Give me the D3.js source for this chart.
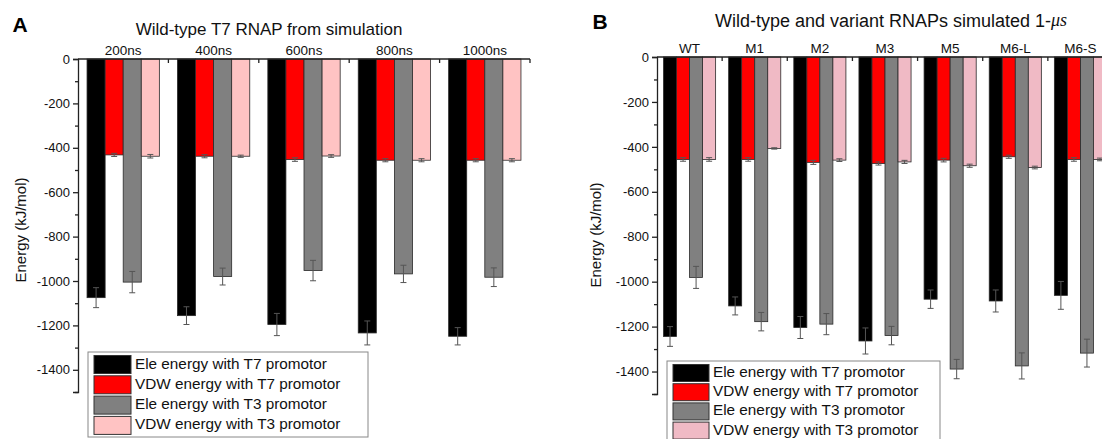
<!DOCTYPE html>
<html>
<head>
<meta charset="utf-8">
<script src="https://cdn.jsdelivr.net/npm/d3@7"></script>
<style>
  body { margin: 0; background: #fff; }
  svg { display: block; }
</style>
</head>
<body>
<div id="chart"></div>
<script>
// series names (legend)
const seriesNames = [
    "Ele energy with T7 promotor",
    "VDW energy with T7 promotor",
    "Ele energy with T3 promotor",
    "VDW energy with T3 promotor"
];

// panel A: wild-type over simulation time
const groupsA = ["200ns", "400ns", "600ns", "800ns", "1000ns"];
const eleT7A = [-1075, -1156, -1196, -1234, -1249];
const eleT7ErrA = [45, 40, 50, 54, 39];
const vdwT7A = [-432, -438, -453, -456, -456];
const vdwT7ErrA = [7, 7, 8, 7, 7];
const eleT3A = [-1005, -980, -953, -968, -983];
const eleT3ErrA = [48, 38, 46, 39, 42];
const vdwT3A = [-438, -438, -437, -456, -456];
const vdwT3ErrA = [8, 5, 6, 7, 7];

// panel B: wild-type and variants
const groupsB = ["WT", "M1", "M2", "M3", "M5", "M6-L", "M6-S"];
const eleT7B = [-1244, -1108, -1204, -1264, -1078, -1086, -1061];
const eleT7ErrB = [44, 40, 49, 58, 41, 49, 62];
const vdwT7B = [-456, -456, -469, -474, -459, -444, -456];
const vdwT7ErrB = [8, 8, 9, 7, 8, 7, 8];
const eleT3B = [-981, -1178, -1189, -1240, -1389, -1375, -1318];
const eleT3ErrB = [49, 41, 47, 41, 43, 58, 62];
const vdwT3B = [-456, -407, -459, -467, -484, -492, -456];
const vdwT3ErrB = [8, 3, 6, 7, 7, 6, 6];

const yTicks = [0, -200, -400, -600, -800, -1000, -1200, -1400];
const yMinorTicks = [-100, -300, -500, -700, -900, -1100, -1300, -1500];

const W = 1102, H = 439;
const font = "Arial, 'Liberation Sans', sans-serif";

const svg = d3.select("#chart").append("svg")
    .attr("width", W)
    .attr("height", H)
    .attr("viewBox", `0 0 ${W} ${H}`);

function drawPanel(p) {
    const g = svg.append("g");
    const series = [
        { vals: p.eleT7, errs: p.eleT7Err, color: "#000000" },
        { vals: p.vdwT7, errs: p.vdwT7Err, color: "#ff0000" },
        { vals: p.eleT3, errs: p.eleT3Err, color: "#808080" },
        { vals: p.vdwT3, errs: p.vdwT3Err, color: p.pink }
    ];

    const x0 = d3.scaleBand()
        .domain(p.groups)
        .range([p.left, p.right])
        .paddingInner(0.2)
        .paddingOuter(0.1);
    const x1 = d3.scaleBand()
        .domain(d3.range(4))
        .range([0, x0.bandwidth()]);
    const y = d3.scaleLinear()
        .domain([-1500, 0])
        .range([p.bottom, p.top]);

    // bars
    series.forEach((s, si) => {
        g.selectAll(null)
            .data(p.groups)
            .enter().append("rect")
            .attr("x", d => x0(d) + x1(si))
            .attr("y", y(0))
            .attr("width", x1.bandwidth())
            .attr("height", (d, i) => y(s.vals[i]) - y(0))
            .attr("fill", s.color)
            .attr("stroke", "#2a2a2a")
            .attr("stroke-width", 0.8);
    });

    // error bars
    series.forEach((s, si) => {
        p.groups.forEach((grp, i) => {
            const cx = x0(grp) + x1(si) + x1.bandwidth() / 2;
            const y1 = y(s.vals[i] + s.errs[i]);
            const y2 = y(s.vals[i] - s.errs[i]);
            g.append("line")
                .attr("x1", cx).attr("x2", cx)
                .attr("y1", y1).attr("y2", y2)
                .attr("stroke", "#555").attr("stroke-width", 1);
            [y1, y2].forEach(yy => {
                g.append("line")
                    .attr("x1", cx - 3).attr("x2", cx + 3)
                    .attr("y1", yy).attr("y2", yy)
                    .attr("stroke", "#555").attr("stroke-width", 1);
            });
        });
    });

    // y axis
    const yAxis = g.append("g")
        .attr("transform", `translate(${p.left},0)`)
        .call(d3.axisLeft(y).tickValues(yTicks).tickSize(5).tickPadding(3).tickFormat(d3.format("d")));
    yAxis.select(".domain").attr("stroke", "#222").attr("stroke-width", 1.3);
    yAxis.selectAll(".tick line").attr("stroke", "#222").attr("stroke-width", 1.3);
    yAxis.selectAll(".tick text")
        .style("font-family", font)
        .style("font-size", "13px")
        .attr("fill", "#111")
        .text(d => d === 0 ? "0" : "-" + Math.abs(d));
    const yMinor = g.append("g")
        .attr("transform", `translate(${p.left},0)`)
        .call(d3.axisLeft(y).tickValues(yMinorTicks).tickSize(3).tickFormat(""));
    yMinor.select(".domain").remove();
    yMinor.selectAll(".tick line").attr("stroke", "#222").attr("stroke-width", 1.3);

    // top axis
    g.append("line")
        .attr("x1", p.left).attr("x2", p.right)
        .attr("y1", y(0)).attr("y2", y(0))
        .attr("stroke", "#222").attr("stroke-width", 1.3);
    const step = x0.step();
    d3.range(1, p.groups.length + 1).forEach(i => {
        const tx = p.left + i * step;
        g.append("line")
            .attr("x1", tx).attr("x2", tx)
            .attr("y1", y(0)).attr("y2", y(0) + 4)
            .attr("stroke", "#222").attr("stroke-width", 1.3);
    });
    g.selectAll(null)
        .data(p.groups)
        .enter().append("text")
        .attr("x", d => x0(d) + x0.bandwidth() / 2)
        .attr("y", y(0) - 4)
        .attr("text-anchor", "middle")
        .style("font-family", font)
        .style("font-size", "13.5px")
        .attr("fill", "#111")
        .text(d => d);

    // y label
    g.append("text")
        .attr("transform", `translate(${p.ylabelX},${p.ylabelY}) rotate(-90)`)
        .attr("text-anchor", "middle")
        .attr("dominant-baseline", "middle")
        .style("font-family", font)
        .style("font-size", "15px")
        .attr("fill", "#111")
        .text("Energy (kJ/mol)");

    // panel letter
    g.append("text")
        .attr("x", p.letterX)
        .attr("y", p.letterY)
        .attr("text-anchor", "middle")
        .attr("dominant-baseline", "middle")
        .style("font-family", font)
        .style("font-size", "21px")
        .style("font-weight", "bold")
        .text(p.letter);

    // title
    const title = g.append("text")
        .attr("x", p.titleX)
        .attr("y", p.titleY)
        .attr("text-anchor", "middle")
        .attr("dominant-baseline", "middle")
        .style("font-family", font)
        .style("font-size", p.titleSize)
        .attr("fill", "#111");
    title.append("tspan").text(p.title);
    if (p.titleItalic) {
        title.append("tspan")
            .style("font-family", "'Liberation Serif', 'DejaVu Serif', serif")
            .style("font-style", "italic")
            .text(p.titleItalic);
    }

    // legend
    const lg = g.append("g");
    lg.append("rect")
        .attr("x", p.legX).attr("y", p.legY)
        .attr("width", p.legW).attr("height", p.legH)
        .attr("fill", "#fff")
        .attr("stroke", "#888").attr("stroke-width", 1);
    series.forEach((s, i) => {
        const cy = p.legY + p.legRow0 + i * p.legRowH;
        lg.append("rect")
            .attr("x", p.legX + 6).attr("y", cy - p.swH / 2)
            .attr("width", p.swW).attr("height", p.swH)
            .attr("fill", s.color)
            .attr("stroke", "#333").attr("stroke-width", 1);
        lg.append("text")
            .attr("x", p.legX + 10 + p.swW)
            .attr("y", cy)
            .attr("dominant-baseline", "middle")
            .style("font-family", font)
            .style("font-size", "15.3px")
            .attr("fill", "#111")
            .text(seriesNames[i]);
    });
}

drawPanel({
    groups: groupsA,
    eleT7: eleT7A, eleT7Err: eleT7ErrA,
    vdwT7: vdwT7A, vdwT7Err: vdwT7ErrA,
    eleT3: eleT3A, eleT3Err: eleT3ErrA,
    vdwT3: vdwT3A, vdwT3Err: vdwT3ErrA,
    pink: "#ffc3c3",
    left: 78, right: 530, top: 59, bottom: 392,
    ylabelX: 22, ylabelY: 230,
    letter: "A", letterX: 20, letterY: 26,
    title: "Wild-type T7 RNAP from simulation", titleX: 269, titleY: 31, titleSize: "17px",
    legX: 88, legY: 352, legW: 280, legH: 85,
    legRow0: 12.5, legRowH: 20.3, swW: 37, swH: 18
});

drawPanel({
    groups: groupsB,
    eleT7: eleT7B, eleT7Err: eleT7ErrB,
    vdwT7: vdwT7B, vdwT7Err: vdwT7ErrB,
    eleT3: eleT3B, eleT3Err: eleT3ErrB,
    vdwT3: vdwT3B, vdwT3Err: vdwT3ErrB,
    pink: "#f0bac5",
    left: 657, right: 1113, top: 57, bottom: 394,
    ylabelX: 597, ylabelY: 235,
    letter: "B", letterX: 600, letterY: 23,
    title: "Wild-type and variant RNAPs simulated 1-", titleItalic: "\u03bcs",
    titleX: 891, titleY: 22, titleSize: "18px",
    legX: 667, legY: 361, legW: 273, legH: 90,
    legRow0: 12, legRowH: 19.2, swW: 36, swH: 17
});
</script>
</body>
</html>
